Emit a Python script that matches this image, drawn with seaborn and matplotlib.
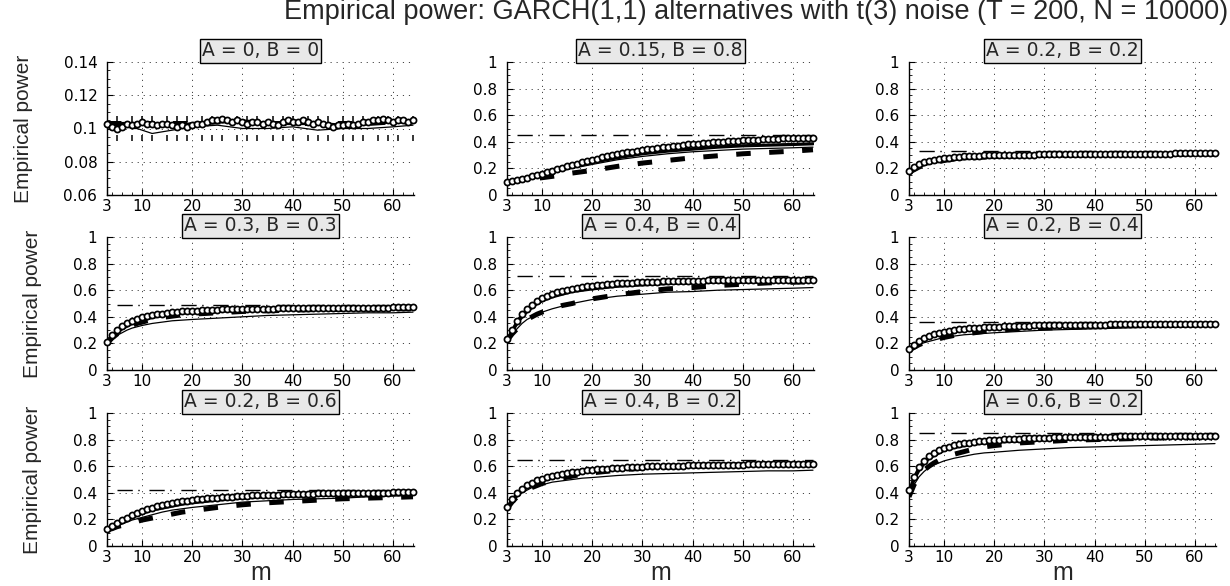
import numpy as np
import matplotlib
matplotlib.use("Agg")
import matplotlib.pyplot as plt
from matplotlib.ticker import MultipleLocator, AutoMinorLocator, FuncFormatter, FixedLocator
import seaborn as sns

# ---------------- data ----------------
m_full = np.arange(3, 65)
m_line = [3, 4, 5, 6, 7, 8, 9, 10, 12, 14, 16, 18, 20, 25, 30, 35, 40, 45, 50, 55, 60, 64]
ref_m = [5, 64]

panel_titles = ["A = 0, B = 0", "A = 0.15, B = 0.8", "A = 0.2, B = 0.2",
                "A = 0.3, B = 0.3", "A = 0.4, B = 0.4", "A = 0.2, B = 0.4",
                "A = 0.2, B = 0.6", "A = 0.4, B = 0.2", "A = 0.6, B = 0.2"]

x_ticks = [3, 10, 20, 30, 40, 50, 60]
y_ticks_size = [0.06, 0.08, 0.1, 0.12, 0.14]
y_ticks_power = [0, 0.2, 0.4, 0.6, 0.8, 1]

# size panel: simulation bounds drawn as tick rows
size_bounds = [0.0941, 0.1059]

circ_1 = [0.103,0.101,0.100,0.101,0.103,0.102,0.103,0.104,0.103,0.103,
          0.102,0.103,0.103,0.102,0.101,0.102,0.101,0.102,0.103,0.103,
          0.104,0.105,0.105,0.106,0.105,0.104,0.105,0.104,0.103,0.104,
          0.104,0.103,0.104,0.103,0.102,0.104,0.105,0.104,0.104,0.105,
          0.104,0.103,0.104,0.103,0.102,0.101,0.102,0.102,0.103,0.102,
          0.103,0.104,0.104,0.105,0.105,0.106,0.105,0.104,0.105,0.105,0.104,0.105]
circ_2 = [0.100,0.108,0.115,0.122,0.130,0.140,0.150,0.160,0.172,0.183,
          0.194,0.205,0.215,0.225,0.235,0.245,0.255,0.265,0.274,0.283,
          0.291,0.299,0.307,0.314,0.320,0.327,0.333,0.339,0.344,0.349,
          0.354,0.359,0.364,0.368,0.372,0.376,0.380,0.384,0.387,0.390,
          0.393,0.396,0.399,0.402,0.405,0.407,0.409,0.411,0.413,0.415,
          0.417,0.419,0.421,0.423,0.424,0.426,0.427,0.428,0.429,0.430,0.431,0.432]
circ_3 = [0.180,0.210,0.230,0.245,0.255,0.263,0.270,0.275,0.280,0.284,
          0.287,0.290,0.292,0.294,0.296,0.297,0.298,0.299,0.300,0.301,
          0.302,0.302,0.303,0.303,0.304,0.304,0.305,0.305,0.305,0.306,
          0.306,0.306,0.307,0.307,0.307,0.308,0.308,0.308,0.309,0.309,
          0.309,0.310,0.310,0.310,0.310,0.311,0.311,0.311,0.311,0.312,
          0.312,0.312,0.312,0.313,0.313,0.313,0.313,0.314,0.314,0.314,0.314,0.315]
circ_4 = [0.210,0.260,0.300,0.330,0.352,0.370,0.384,0.395,0.404,0.412,
          0.418,0.424,0.429,0.433,0.437,0.440,0.443,0.445,0.447,0.449,
          0.451,0.452,0.454,0.455,0.456,0.457,0.458,0.459,0.460,0.460,
          0.461,0.461,0.462,0.462,0.463,0.463,0.464,0.464,0.464,0.465,
          0.465,0.465,0.466,0.466,0.466,0.467,0.467,0.467,0.467,0.468,
          0.468,0.468,0.468,0.469,0.469,0.469,0.469,0.470,0.470,0.470,0.470,0.470]
circ_5 = [0.230,0.300,0.370,0.420,0.460,0.490,0.518,0.540,0.558,0.573,
          0.585,0.595,0.604,0.611,0.618,0.624,0.629,0.634,0.638,0.642,
          0.645,0.648,0.651,0.653,0.655,0.657,0.659,0.661,0.662,0.664,
          0.665,0.666,0.667,0.668,0.669,0.670,0.670,0.671,0.672,0.672,
          0.673,0.673,0.674,0.674,0.675,0.675,0.676,0.676,0.676,0.677,
          0.677,0.677,0.678,0.678,0.678,0.678,0.679,0.679,0.679,0.679,0.680,0.680]
circ_6 = [0.160,0.190,0.215,0.237,0.254,0.267,0.278,0.287,0.294,0.300,
          0.305,0.309,0.313,0.316,0.319,0.321,0.323,0.325,0.327,0.328,
          0.330,0.331,0.332,0.333,0.334,0.335,0.336,0.336,0.337,0.338,
          0.338,0.339,0.339,0.340,0.340,0.341,0.341,0.342,0.342,0.342,
          0.343,0.343,0.343,0.344,0.344,0.344,0.345,0.345,0.345,0.345,
          0.346,0.346,0.346,0.346,0.347,0.347,0.347,0.347,0.348,0.348,0.348,0.348]
circ_7 = [0.130,0.150,0.172,0.193,0.213,0.232,0.249,0.264,0.277,0.289,
          0.299,0.308,0.316,0.323,0.330,0.336,0.341,0.346,0.350,0.354,
          0.358,0.361,0.364,0.367,0.369,0.372,0.374,0.376,0.378,0.380,
          0.381,0.383,0.384,0.386,0.387,0.388,0.389,0.390,0.391,0.392,
          0.393,0.394,0.395,0.395,0.396,0.397,0.397,0.398,0.399,0.399,
          0.400,0.400,0.401,0.401,0.402,0.402,0.402,0.403,0.403,0.403,0.404,0.404]
circ_8 = [0.290,0.350,0.398,0.432,0.457,0.477,0.493,0.507,0.518,0.528,
          0.536,0.543,0.550,0.555,0.560,0.565,0.569,0.573,0.576,0.579,
          0.582,0.585,0.587,0.589,0.591,0.593,0.595,0.596,0.598,0.599,
          0.600,0.601,0.602,0.603,0.604,0.605,0.606,0.607,0.607,0.608,
          0.609,0.609,0.610,0.610,0.611,0.611,0.612,0.612,0.613,0.613,
          0.614,0.614,0.614,0.615,0.615,0.615,0.616,0.616,0.616,0.617,0.617,0.617]
circ_9 = [0.420,0.520,0.595,0.640,0.675,0.700,0.720,0.735,0.747,0.757,
          0.765,0.772,0.778,0.783,0.787,0.791,0.794,0.797,0.800,0.802,
          0.804,0.806,0.808,0.809,0.811,0.812,0.813,0.814,0.815,0.816,
          0.817,0.818,0.818,0.819,0.820,0.820,0.821,0.821,0.822,0.822,
          0.823,0.823,0.824,0.824,0.824,0.825,0.825,0.825,0.826,0.826,
          0.826,0.827,0.827,0.827,0.827,0.828,0.828,0.828,0.828,0.829,0.829,0.829]

thick_1 = [0.103,0.102,0.102,0.103,0.103,0.103,0.103,0.103,0.102,0.102,0.102,0.102,0.103,0.104,0.104,0.103,0.103,0.103,0.102,0.103,0.104,0.104]
thick_2 = [0.10,0.105,0.11,0.115,0.12,0.13,0.14,0.15,0.17,0.19,0.21,0.23,0.245,0.28,0.31,0.33,0.345,0.36,0.37,0.375,0.38,0.385]
thick_3 = [0.18,0.2,0.22,0.235,0.245,0.255,0.26,0.265,0.275,0.28,0.285,0.29,0.29,0.295,0.3,0.3,0.3,0.305,0.305,0.305,0.31,0.31]
thick_4 = [0.2,0.25,0.28,0.31,0.33,0.35,0.365,0.375,0.395,0.41,0.42,0.43,0.435,0.445,0.45,0.455,0.455,0.46,0.46,0.46,0.465,0.465]
thick_5 = [0.22,0.29,0.35,0.4,0.44,0.47,0.5,0.52,0.55,0.57,0.59,0.6,0.61,0.63,0.64,0.65,0.655,0.66,0.66,0.665,0.665,0.67]
thick_6 = [0.15,0.18,0.21,0.23,0.245,0.255,0.265,0.275,0.29,0.3,0.305,0.31,0.315,0.325,0.33,0.335,0.34,0.34,0.345,0.345,0.345,0.35]
thick_7 = [0.13,0.14,0.16,0.18,0.2,0.215,0.23,0.245,0.27,0.285,0.3,0.315,0.325,0.345,0.36,0.37,0.375,0.38,0.385,0.385,0.39,0.39]
thick_8 = [0.28,0.34,0.38,0.415,0.44,0.46,0.475,0.49,0.51,0.53,0.54,0.55,0.56,0.58,0.59,0.6,0.605,0.61,0.61,0.615,0.615,0.62]
thick_9 = [0.38,0.5,0.57,0.62,0.66,0.68,0.7,0.72,0.74,0.755,0.765,0.775,0.78,0.79,0.8,0.805,0.81,0.815,0.815,0.82,0.82,0.825]

thin_1 = [0.101,0.099,0.1,0.1,0.101,0.1,0.1,0.099,0.097,0.098,0.099,0.1,0.101,0.102,0.1,0.1,0.101,0.099,0.1,0.1,0.101,0.102]
thin_2 = [0.10,0.105,0.11,0.115,0.12,0.13,0.14,0.145,0.165,0.185,0.2,0.215,0.23,0.265,0.29,0.31,0.325,0.335,0.345,0.35,0.355,0.36]
thin_3 = [0.16,0.19,0.205,0.22,0.23,0.24,0.245,0.25,0.26,0.265,0.27,0.275,0.275,0.28,0.285,0.285,0.29,0.29,0.29,0.29,0.295,0.295]
thin_4 = [0.2,0.23,0.26,0.28,0.3,0.315,0.325,0.335,0.35,0.36,0.37,0.375,0.38,0.39,0.4,0.41,0.415,0.42,0.425,0.43,0.43,0.435]
thin_5 = [0.22,0.27,0.31,0.35,0.38,0.4,0.42,0.435,0.46,0.48,0.5,0.515,0.53,0.555,0.57,0.585,0.59,0.6,0.605,0.61,0.615,0.62]
thin_6 = [0.15,0.17,0.19,0.205,0.215,0.225,0.235,0.24,0.255,0.265,0.27,0.275,0.28,0.29,0.3,0.305,0.31,0.315,0.32,0.32,0.325,0.33]
thin_7 = [0.12,0.135,0.15,0.165,0.18,0.195,0.205,0.215,0.235,0.255,0.27,0.28,0.29,0.31,0.33,0.34,0.35,0.355,0.36,0.37,0.375,0.38]
thin_8 = [0.28,0.33,0.37,0.4,0.42,0.44,0.45,0.46,0.48,0.49,0.5,0.51,0.515,0.53,0.54,0.545,0.55,0.555,0.56,0.565,0.565,0.57]
thin_9 = [0.37,0.46,0.52,0.56,0.59,0.61,0.625,0.64,0.66,0.675,0.69,0.7,0.705,0.72,0.73,0.74,0.745,0.75,0.755,0.76,0.765,0.77]

dash_1 = [0.103,0.103,0.103,0.103,0.103,0.103,0.103,0.103,0.103,0.103,0.103,0.103,0.103,0.104,0.104,0.103,0.103,0.103,0.103,0.103,0.104,0.104]
dash_2 = [0.10,0.10,0.105,0.11,0.115,0.12,0.125,0.13,0.14,0.15,0.165,0.175,0.185,0.215,0.24,0.26,0.28,0.295,0.31,0.32,0.33,0.34]
dash_3 = [0.17,0.19,0.21,0.225,0.235,0.245,0.25,0.26,0.27,0.275,0.28,0.285,0.29,0.295,0.3,0.3,0.305,0.305,0.31,0.31,0.31,0.31]
dash_4 = [0.2,0.24,0.27,0.3,0.32,0.335,0.35,0.36,0.38,0.395,0.405,0.415,0.42,0.43,0.44,0.445,0.45,0.455,0.455,0.46,0.46,0.46]
dash_5 = [0.22,0.27,0.31,0.35,0.38,0.4,0.42,0.435,0.46,0.485,0.5,0.52,0.535,0.565,0.59,0.61,0.62,0.635,0.645,0.655,0.66,0.665]
dash_6 = [0.15,0.17,0.19,0.205,0.215,0.225,0.235,0.245,0.26,0.27,0.28,0.29,0.295,0.31,0.315,0.32,0.33,0.335,0.335,0.34,0.34,0.345]
dash_7 = [0.12,0.13,0.145,0.155,0.165,0.175,0.185,0.195,0.21,0.225,0.24,0.255,0.265,0.29,0.31,0.325,0.335,0.345,0.355,0.36,0.365,0.37]
dash_8 = [0.28,0.33,0.37,0.4,0.42,0.44,0.455,0.47,0.49,0.51,0.525,0.54,0.55,0.57,0.585,0.595,0.6,0.605,0.61,0.615,0.615,0.62]
dash_9 = [0.37,0.46,0.52,0.57,0.6,0.625,0.645,0.66,0.69,0.71,0.73,0.745,0.755,0.775,0.785,0.795,0.8,0.805,0.81,0.815,0.815,0.82]

ref_levels = [None, 0.45, 0.33, 0.49, 0.71, 0.36, 0.42, 0.65, 0.85]

circ_all = [circ_1, circ_2, circ_3, circ_4, circ_5, circ_6, circ_7, circ_8, circ_9]
thick_all = [thick_1, thick_2, thick_3, thick_4, thick_5, thick_6, thick_7, thick_8, thick_9]
thin_all = [thin_1, thin_2, thin_3, thin_4, thin_5, thin_6, thin_7, thin_8, thin_9]
dash_all = [dash_1, dash_2, dash_3, dash_4, dash_5, dash_6, dash_7, dash_8, dash_9]

# ---------------- style ----------------
sns.set_style("white")
plt.rcParams["font.family"] = ["DejaVu Sans"]

fig = plt.figure(figsize=(12.3, 5.86), dpi=100)

W, H = 1230.0, 586.0
col_left = [107, 507, 909]
row_top = [62, 237, 413]
ax_w, ax_h = 307, 133

fmt = FuncFormatter(lambda v, p: f"{round(v, 4):g}")

for i in range(9):
    r, c = divmod(i, 3)
    ax = fig.add_axes([col_left[c] / W, 1 - (row_top[r] + ax_h) / H, ax_w / W, ax_h / H])

    # reference / bounds
    if i == 0:
        for b in size_bounds:
            sns.lineplot(x=m_full, y=[b] * len(m_full), ax=ax, color="black",
                         linestyle="", marker="|", markersize=4, markeredgewidth=1.1,
                         markeredgecolor="black", markevery=0.035, errorbar=None, zorder=2)
    else:
        sns.lineplot(x=ref_m, y=[ref_levels[i]] * 2, ax=ax, color="black", linewidth=1.0,
                     linestyle=(0, (11, 4, 1, 7)), errorbar=None, zorder=2)

    sns.lineplot(x=m_line, y=thin_all[i], ax=ax, color="black", linewidth=0.9,
                 errorbar=None, zorder=3)
    sns.lineplot(x=m_line, y=dash_all[i], ax=ax, color="black", linewidth=3.6,
                 linestyle=(0, (2.9, 3.7)), errorbar=None, zorder=3)
    sns.lineplot(x=m_line, y=thick_all[i], ax=ax, color="black", linewidth=2.3,
                 errorbar=None, zorder=4)
    sns.lineplot(x=m_full, y=circ_all[i], ax=ax, color="black", linewidth=1.6,
                 marker="o", markersize=4.4, markerfacecolor="white",
                 markeredgecolor="black", markeredgewidth=1.25,
                 errorbar=None, zorder=5, clip_on=False)

    ax.set_xlim(3, 64.2)
    if i == 0:
        ax.set_ylim(0.06, 0.14)
        ax.yaxis.set_major_locator(FixedLocator(y_ticks_size))
    else:
        ax.set_ylim(0, 1)
        ax.yaxis.set_major_locator(FixedLocator(y_ticks_power))
    ax.xaxis.set_major_locator(FixedLocator(x_ticks))
    ax.xaxis.set_minor_locator(MultipleLocator(2))
    ax.yaxis.set_minor_locator(AutoMinorLocator(4))
    ax.yaxis.set_major_formatter(fmt)
    ax.xaxis.set_major_formatter(fmt)

    ax.grid(True, which="major", color="#444444", linestyle=(0, (1.2, 5)), linewidth=0.7)
    ax.set_axisbelow(True)
    for s in ["top", "right"]:
        ax.spines[s].set_visible(False)
    for s in ["left", "bottom"]:
        ax.spines[s].set_color("black")
        ax.spines[s].set_linewidth(1.0)
    ax.tick_params(which="major", direction="in", length=4, width=0.8, color="black",
                   labelsize=11, labelcolor="black")
    ax.tick_params(axis="x", which="major", pad=3)
    ax.tick_params(axis="y", which="major", pad=7)
    ax.tick_params(which="minor", direction="in", length=2, width=0.6, color="black")
    ax.tick_params(axis="x", which="both", bottom=True)
    ax.tick_params(axis="y", which="both", left=True)

    ax.set_xlabel("")
    ax.set_ylabel("")
    ax.set_title(panel_titles[i], fontsize=13.5, pad=4,
                 bbox=dict(boxstyle="square,pad=0.12", facecolor="#e8e8e8",
                           edgecolor="black", linewidth=1.0))
    if c == 0:
        ax.set_ylabel("Empirical power", family=["Liberation Sans Narrow", "Liberation Sans"],
                      fontsize=15, labelpad=22)
    if r == 2:
        ax.set_xlabel("m", family="Liberation Sans", fontsize=18, labelpad=-3)

fig.text(1228 / W, 1 - 12 / H,
         "Empirical power: GARCH(1,1) alternatives with t(3) noise (T = 200, N = 10000)",
         ha="right", va="center", family="Liberation Sans", fontsize=19.5)

fig.savefig("out.png", dpi=100)
